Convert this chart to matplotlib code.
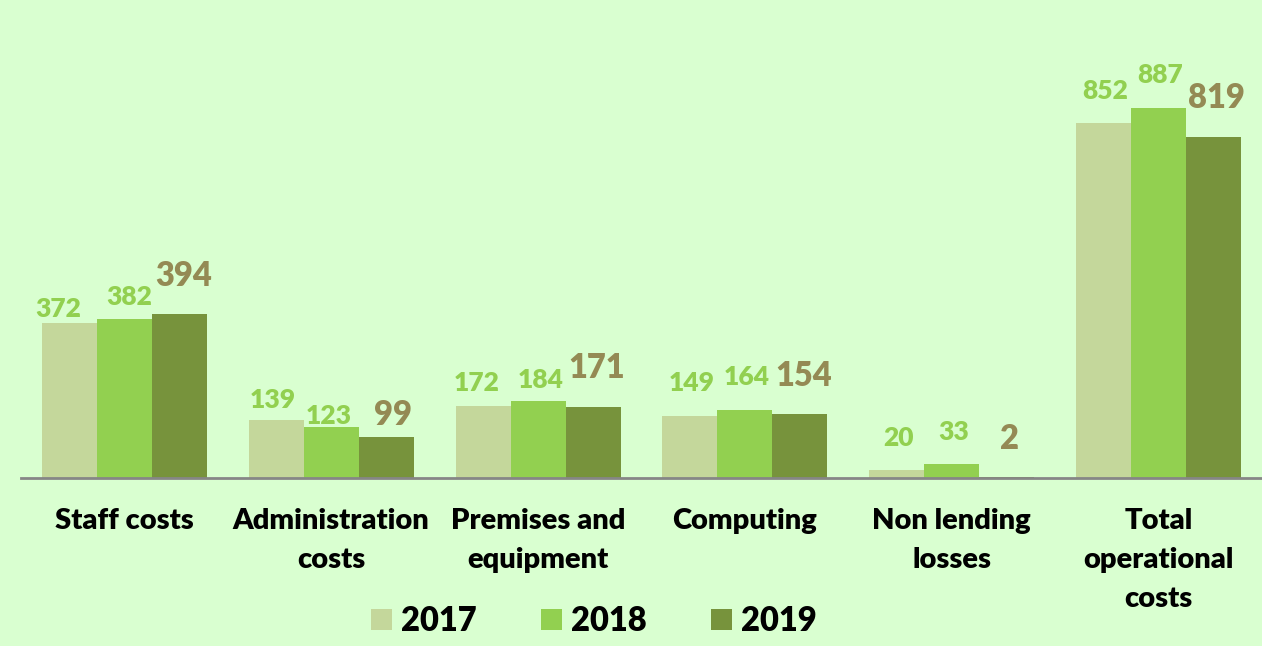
import matplotlib
matplotlib.use("Agg")
import matplotlib.pyplot as plt
import numpy as np

categories = ["Staff costs", "Administration\ncosts", "Premises and\nequipment",
              "Computing", "Non lending\nlosses", "Total\noperational\ncosts"]
years = ["2017", "2018", "2019"]
v2017 = [372, 139, 172, 149, 20, 852]
v2018 = [382, 123, 184, 164, 33, 887]
v2019 = [394, 99, 171, 154, 2, 819]
series = [v2017, v2018, v2019]

# styling
bar_colors = ["#C4D79B", "#92D050", "#77933C"]
label_colors = ["#92D050", "#92D050", "#948A54"]
label_sizes = [19, 19, 23.5]
# label nudges (pixels): gap above bar, horizontal shift
label_dy = [[2, 8, 11, 21, 20, 20],
            [10, -1, 9, 21, 20, 21],
            [22, 6, 23, 22, 22, 23]]
label_dx = [[-11, -3, -6, 2, 2, 2],
            [5, -3, 3, 2, 2, 2],
            [4, 7, 4, 4, 3, 3]]
bg = "#D9FFD0"
font = "Lato"
weight = "heavy"

W, H = 1262, 646
fig = plt.figure(figsize=(W / 100, H / 100), dpi=100, facecolor=bg)
ax = fig.add_axes([21 / W, 168 / H, (W - 21) / W, 478 / H])
ax.set_facecolor(bg)

x = np.arange(len(categories))
bw = 0.266
for i, (vals, c) in enumerate(zip(series, bar_colors)):
    xs = x + (i - 1) * bw
    ax.bar(xs, vals, width=bw, color=c, label=years[i], zorder=2)
    for j, (xx, v) in enumerate(zip(xs, vals)):
        ax.annotate(str(v), (xx, v), xytext=(label_dx[i][j] * 0.72, label_dy[i][j] * 0.72),
                    textcoords="offset points", ha="center", va="bottom",
                    fontsize=label_sizes[i], fontweight=weight, color=label_colors[i],
                    family=font)

ax.set_xlim(-0.5, 5.5)
ax.set_ylim(0, 1147)
for s in ["top", "right", "left"]:
    ax.spines[s].set_visible(False)
ax.spines["bottom"].set_color("#868686")
ax.spines["bottom"].set_linewidth(2)
ax.set_yticks([])
ax.set_xticks(x)
ax.set_xticklabels(categories, fontsize=21, fontweight=weight, family=font,
                   linespacing=1.63, va="top")
ax.tick_params(axis="x", length=0, pad=30 * 0.72)

leg = fig.legend(loc="center", bbox_to_anchor=(594 / W, 1 - 621 / H), ncol=3,
                 frameon=False, prop={"family": font, "weight": weight, "size": 23.5},
                 handlelength=0.64, handleheight=0.64, handletextpad=0.3,
                 columnspacing=1.95)

fig.savefig("out.png", dpi=100, facecolor=bg)
